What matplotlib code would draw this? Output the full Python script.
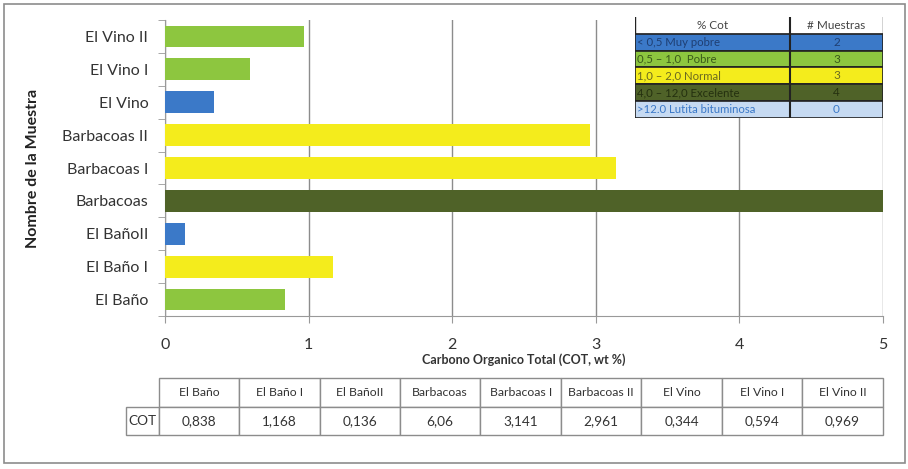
import matplotlib.pyplot as plt
import numpy as np
from matplotlib.patches import Rectangle

plt.rcParams['font.family'] = ['Lato', 'DejaVu Sans']

# COT por muestra
muestras = ['El Baño', 'El Baño I', 'El BañoII', 'Barbacoas', 'Barbacoas I',
            'Barbacoas II', 'El Vino', 'El Vino I', 'El Vino II']
cot = [0.838, 1.168, 0.136, 6.06, 3.141, 2.961, 0.344, 0.594, 0.969]
clase = ['pobre', 'normal', 'muy_pobre', 'excelente', 'normal', 'normal',
         'muy_pobre', 'pobre', 'pobre']

# clasificacion
rangos = ['< 0,5 Muy pobre', '0,5 – 1,0  Pobre', '1,0 – 2,0 Normal',
          '4,0 – 12,0 Excelente', '>12.0 Lutita bituminosa']
claves = ['muy_pobre', 'pobre', 'normal', 'excelente', 'lutita']
n_muestras = [2, 3, 3, 4, 0]

colores = {'muy_pobre': '#3b79c8', 'pobre': '#8dc63f', 'normal': '#f4ec1c',
           'excelente': '#4f6228', 'lutita': '#c6daf2'}
texto_col = {'muy_pobre': '#1f3f73', 'pobre': '#3a5a1a', 'normal': '#6b6a20',
             'excelente': '#24300f', 'lutita': '#3b79c8'}

fig = plt.figure(figsize=(9.08, 4.69), dpi=100)
fig.patch.set_facecolor('white')

# marco exterior
fig.patches.append(Rectangle((4 / 908, 6 / 469), 901 / 908, 459 / 469,
                             transform=fig.transFigure, fill=False,
                             edgecolor='#8c8c8c', linewidth=1.2))

ax = fig.add_axes([165 / 908, 1 - 316 / 469, 718 / 908, 296 / 469])
y = np.arange(len(muestras))
ax.barh(y, cot, height=0.66, color=[colores[c] for c in clase], zorder=3)
ax.set_xlim(0, 5)
ax.set_ylim(-0.5, len(muestras) - 0.5)
ax.set_yticks(y)
ax.set_yticklabels(muestras, fontsize=11.5, color='#333333')
ax.set_yticks(np.arange(-0.5, len(muestras)), minor=True)
ax.tick_params(axis='y', which='major', length=0, pad=12)
ax.tick_params(axis='y', which='minor', length=5, color='#999999')
ax.set_xticks(range(6))
ax.tick_params(axis='x', length=5, color='#999999', labelsize=11.5,
               labelcolor='#333333', pad=11)
ax.grid(axis='x', color='#8c8c8c', linewidth=1, zorder=0)
for s in ['top', 'right']:
    ax.spines[s].set_visible(False)
for s in ['left', 'bottom']:
    ax.spines[s].set_color('#999999')
ax.set_xlabel('Carbono Organico Total (COT, wt %)', fontsize=9,
              fontweight='bold', color='#333333', labelpad=1)
ax.set_ylabel('Nombre de la Muestra', fontsize=11.5, fontweight='bold',
              color='#222222', labelpad=16)

# tabla de clasificacion
lg = fig.add_axes([635 / 908, 1 - 118 / 469, 248 / 908, 101 / 469])
lg.set_xlim(0, 1)
lg.set_ylim(0, 6)
lg.axis('off')
x_div = 155 / 248
lg.add_patch(Rectangle((0, 5), 1, 1.1, facecolor='white', edgecolor='#222222', lw=1))
lg.plot([x_div, x_div], [0, 6.1], color='#222222', lw=1.5, zorder=5)
lg.text(x_div / 2, 5.5, '% Cot', ha='center', va='center', fontsize=8.5,
        color='#444444')
lg.text((1 + x_div) / 2, 5.5, '# Muestras', ha='center', va='center',
        fontsize=8.5, color='#444444')
for i, (r, k, n) in enumerate(zip(rangos, claves, n_muestras)):
    yy = 4 - i
    lg.add_patch(Rectangle((0, yy), 1, 1, facecolor=colores[k],
                           edgecolor='#222222', lw=1.2))
    lg.text(0.01, yy + 0.5, r, ha='left', va='center', fontsize=8.2,
            color=texto_col[k])
    lg.text((1 + x_div) / 2, yy + 0.5, str(n), ha='center', va='center',
            fontsize=8.5, color=texto_col[k])

# tabla de datos
tb = fig.add_axes([130 / 908, 1 - 435 / 469, 754 / 908, 57 / 469])
tb.axis('off')
valores = [('%g' % v).replace('.', ',') for v in cot]
tabla = tb.table(cellText=[valores], rowLabels=['COT'], colLabels=muestras,
                 cellLoc='center', rowLoc='center',
                 bbox=[30 / 754, 0, 724 / 754, 1])
tabla.auto_set_font_size(False)
for (r, c), cell in tabla.get_celld().items():
    cell.set_edgecolor('#8c8c8c')
    cell.set_linewidth(1)
    cell.get_text().set_fontsize(8.8)
    cell.get_text().set_color('#333333')
    if c == -1:
        cell.set_width(30 / 754)
        cell.get_text().set_fontsize(9)
    if r == 1:
        cell.get_text().set_fontsize(9.8)

fig.savefig('out.png', dpi=100)
